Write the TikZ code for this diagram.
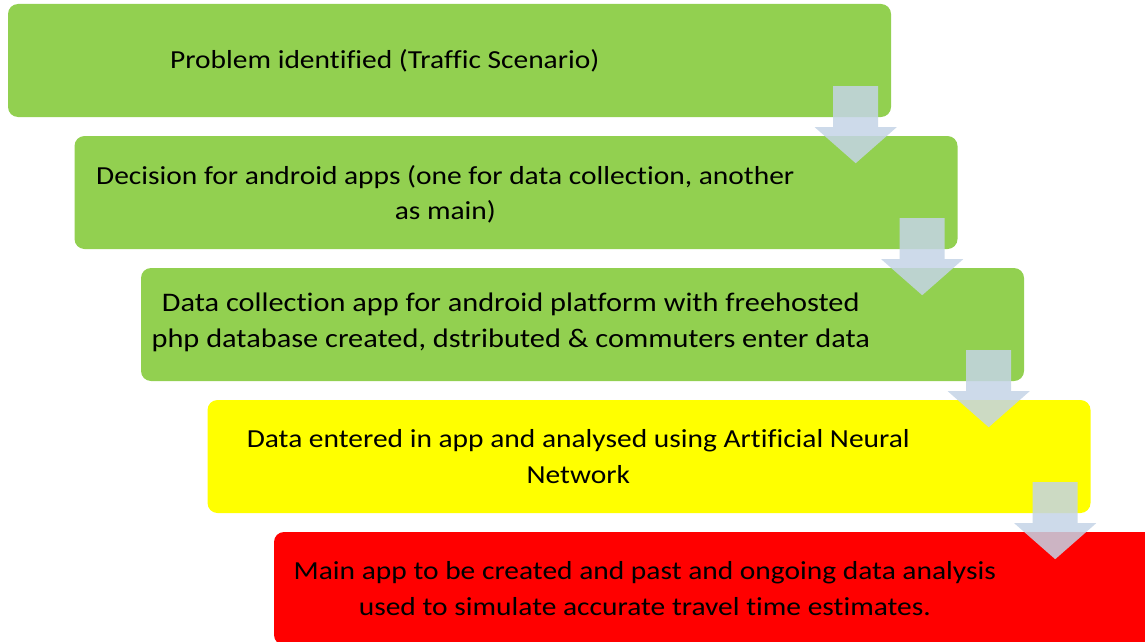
\documentclass[tikz,border=0pt]{standalone}
\usepackage{fontspec}
\setmainfont{Carlito}[FakeStretch=1.133, Ligatures=NoCommon]
\usetikzlibrary{calc}
\definecolor{sgreen}{HTML}{92D050}
\definecolor{syellow}{HTML}{FFFF00}
\definecolor{sred}{HTML}{FF0000}
\definecolor{sarrow}{HTML}{C4D4E6}
\tikzset{
  stepbox/.style={draw=none, rounded corners=10pt, minimum width=883pt, minimum height=113pt, inner sep=0pt},
  steptext/.style={align=center, font=\fontsize{26}{35.5}\selectfont, text=black, inner sep=0pt},
  downarrow/.pic={\fill[sarrow, fill opacity=0.85] (-22.5,0) -- (22.5,0) -- (22.5,41) -- (41,41) -- (0,77) -- (-41,41) -- (-22.5,41) -- cycle;}
}
\begin{document}
\begin{tikzpicture}[x=1pt, y=-1pt]
\useasboundingbox (0,0) rectangle (1145,642);
\node[stepbox, fill=sgreen]  (b1) at (449.5,60.5) {};
\node[stepbox, fill=sgreen]  (b2) at (516,192.5) {};
\node[stepbox, fill=sgreen]  (b3) at (582.5,324.5) {};
\node[stepbox, fill=syellow] (b4) at (649,456.5) {};
\node[stepbox, fill=sred]    (b5) at (715.5,588.5) {};
\node[steptext] (t1) at ($(b1.west)+(377,0)$) {Problem identified (Traffic Scenario)};
\node[steptext] (t2) at ($(b2.west)+(371,2)$) {Decision for android apps (one for data collection, another\\as main)};
\node[steptext, font=\fontsize{26.8}{35.5}\selectfont] (t3) at ($(b3.west)+(370,-2)$) {Data collection app for android platform with freehosted\\php database created, dstributed \& commuters enter data};
\node[steptext] (t4) at ($(b4.west)+(371,0)$) {Data entered in app and analysed using Artificial Neural\\Network};
\node[steptext] (t5) at ($(b5.west)+(371,0)$) {Main app to be created and past and ongoing data analysis\\used to simulate accurate travel time estimates.};
\path ($(b1.south east)+(-35.5,-31)$) pic {downarrow};
\path ($(b2.south east)+(-35.5,-31)$) pic {downarrow};
\path ($(b3.south east)+(-35.5,-31)$) pic {downarrow};
\path ($(b4.south east)+(-35.5,-31)$) pic {downarrow};
\end{tikzpicture}
\end{document}
